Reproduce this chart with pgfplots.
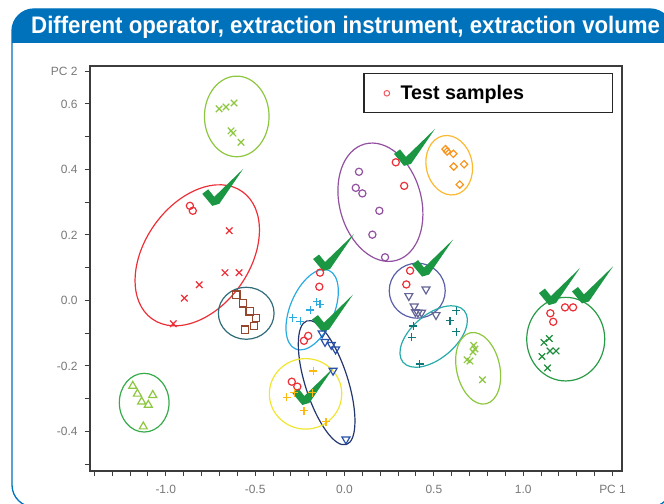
\documentclass[border=0pt]{standalone}
\usepackage{fontspec}
\setmainfont{Liberation Sans}
\newfontfamily\titlefont[FakeStretch=0.93]{Liberation Sans}
\usepackage{pgfplots}
\pgfplotsset{compat=1.18}
\usetikzlibrary{shapes.geometric}

\definecolor{frameblue}{RGB}{0,114,188}
\definecolor{axisgray}{RGB}{60,60,60}
\definecolor{labelgray}{RGB}{120,120,120}
\definecolor{sred}{RGB}{236,48,56}
\definecolor{lime}{RGB}{141,198,63}
\definecolor{slateteal}{RGB}{48,108,122}
\definecolor{brownsq}{RGB}{150,70,45}
\definecolor{grnell}{RGB}{55,170,75}
\definecolor{ltblue}{RGB}{41,171,226}
\definecolor{navy}{RGB}{35,55,110}
\definecolor{bluetri}{RGB}{40,80,170}
\definecolor{yellell}{RGB}{240,230,50}
\definecolor{yellplus}{RGB}{253,185,19}
\definecolor{purp}{RGB}{146,80,160}
\definecolor{orng}{RGB}{247,148,29}
\definecolor{orngell}{RGB}{251,185,50}
\definecolor{slate}{RGB}{90,95,170}
\definecolor{slatetri}{RGB}{100,100,150}
\definecolor{tealell}{RGB}{40,170,170}
\definecolor{tealplus}{RGB}{15,120,120}
\definecolor{dkgreen}{RGB}{40,155,70}
\definecolor{xgreen}{RGB}{30,140,60}
\definecolor{chk}{RGB}{27,150,67}

\begin{document}
\begin{tikzpicture}
\useasboundingbox (0,0) rectangle (664bp,504bp);
\begin{scope}
\clip[rounded corners=22bp] (12bp,-3bp) rectangle (672bp,495bp);
\fill[frameblue] (0,461bp) rectangle (680bp,500bp);
\end{scope}
\draw[frameblue, line width=1.3bp, rounded corners=22bp] (12bp,-3bp) rectangle (672bp,495bp);
\node[anchor=base west, text=white, inner sep=0, font=\titlefont\bfseries\fontsize{24}{26}\selectfont] at (31bp,470bp) {Different operator, extraction instrument, extraction volume};

\begin{axis}[
  at={(90bp,33bp)}, anchor=south west,
  width=532bp, height=405bp, scale only axis,
  xmin=-1.4242, xmax=1.5529, ymin=-0.5206, ymax=0.7160,
  axis line style={draw=axisgray, line width=1.6bp},
  tick pos=left, tick align=outside,
  major tick length=5bp,
  tick style={draw=axisgray, line width=1bp},
  xtick={-1.4,-1.3,-1.2,-1.1,-1.0,-0.9,-0.8,-0.7,-0.6,-0.5,-0.4,-0.3,-0.2,-0.1,0,0.1,0.2,0.3,0.4,0.5,0.6,0.7,0.8,0.9,1.0,1.1,1.2,1.3,1.4,1.5},
  xticklabels={,,,,-1.0,,,,,-0.5,,,,,0.0,,,,,0.5,,,,,1.0,,,,,PC 1},
  ytick={-0.5,-0.4,-0.3,-0.2,-0.1,0,0.1,0.2,0.3,0.4,0.5,0.6,0.7},
  yticklabels={,-0.4,,-0.2,,0.0,,0.2,,0.4,,0.6,PC 2},
  ticklabel style={font=\fontsize{12}{14}\selectfont, text=labelgray},
  xticklabel style={yshift=-6bp},
  yticklabel style={xshift=-4bp},
  legend style={at={(0.514,0.982)}, anchor=north west, draw=black!85, line width=1.2bp,
    font=\bfseries\fontsize{19.8}{22}\selectfont, inner xsep=20bp, inner ysep=9.5bp,
    column sep=9bp},
  legend cell align=left,
]
\addlegendimage{only marks, mark=o, mark size=2.8bp, draw=sred!80, line width=1bp}
\addlegendentry{\makebox[190bp][l]{Test samples}}

% ellipses
\node[draw=lime, line width=1.2bp, ellipse, inner sep=0, minimum width=64.6bp, minimum height=80.6bp] at (axis cs:-0.603,0.562) {};
\node[draw=sred, line width=1.2bp, ellipse, inner sep=0, minimum width=156bp, minimum height=105bp, rotate=54.7] at (axis cs:-0.824,0.138) {};
\node[draw=slateteal, line width=1.2bp, ellipse, inner sep=0, minimum width=55.7bp, minimum height=52bp] at (axis cs:-0.550,-0.039) {};
\node[draw=grnell, line width=1.2bp, ellipse, inner sep=0, minimum width=49.7bp, minimum height=58.7bp] at (axis cs:-1.121,-0.312) {};
\node[draw=ltblue, line width=1.2bp, ellipse, inner sep=0, minimum width=85.4bp, minimum height=44bp, rotate=67.2] at (axis cs:-0.181,-0.028) {};
\node[draw=navy, line width=1.2bp, ellipse, inner sep=0, minimum width=129.8bp, minimum height=42.7bp, rotate=-72.3] at (axis cs:-0.100,-0.251) {};
\node[draw=yellell, line width=1.2bp, ellipse, inner sep=0, minimum width=72.4bp, minimum height=70.5bp] at (axis cs:-0.218,-0.285) {};
\node[draw=purp, line width=1.2bp, ellipse, inner sep=0, minimum width=120.6bp, minimum height=81.8bp, rotate=-74.9] at (axis cs:0.201,0.300) {};
\node[draw=orngell, line width=1.2bp, ellipse, inner sep=0, minimum width=60bp, minimum height=46bp, rotate=-78] at (axis cs:0.586,0.413) {};
\node[draw=slate, line width=1.2bp, ellipse, inner sep=0, minimum width=56bp, minimum height=55bp] at (axis cs:0.407,0.030) {};
\node[draw=tealell, line width=1.2bp, ellipse, inner sep=0, minimum width=80bp, minimum height=44bp, rotate=40] at (axis cs:0.499,-0.110) {};
\node[draw=lime, line width=1.2bp, ellipse, inner sep=0, minimum width=72.7bp, minimum height=43.2bp, rotate=-77.6] at (axis cs:0.748,-0.207) {};
\node[draw=dkgreen, line width=1.2bp, ellipse, inner sep=0, minimum width=78bp, minimum height=83.6bp] at (axis cs:1.238,-0.118) {};

% test samples
\addplot[only marks, mark=o, mark size=3.6bp, draw=sred, line width=1.2bp] coordinates {
(-0.865,0.289) (-0.849,0.274)
(-0.137,0.085) (-0.141,0.042) (-0.203,-0.108) (-0.227,-0.123)
(-0.295,-0.248) (-0.264,-0.263)
(0.287,0.422) (0.334,0.350)
(0.367,0.091) (0.346,0.049)
(1.152,-0.039) (1.168,-0.065) (1.234,-0.021) (1.279,-0.021)
};
% reference groups
\addplot[only marks, mark=x, mark size=4.6bp, draw=sred, line width=1.2bp] coordinates {
(-0.645,0.213) (-0.669,0.085) (-0.590,0.085) (-0.813,0.048) (-0.896,0.007) (-0.958,-0.071)
};
\addplot[only marks, mark=x, mark size=4.6bp, draw=lime, line width=1.2bp] coordinates {
(-0.702,0.585) (-0.663,0.591) (-0.618,0.603) (-0.635,0.518) (-0.624,0.511) (-0.579,0.483)
};
\addplot[only marks, mark=square, mark size=3.6bp, draw=brownsq, line width=1.3bp] coordinates {
(-0.605,0.018) (-0.568,-0.009) (-0.531,-0.033) (-0.494,-0.054) (-0.506,-0.078) (-0.556,-0.089)
};
\addplot[only marks, mark=triangle, mark size=4.6bp, draw=lime, line width=1.2bp] coordinates {
(-1.185,-0.261) (-1.159,-0.285) (-1.135,-0.309) (-1.098,-0.319) (-1.073,-0.289) (-1.126,-0.385)
};
\addplot[only marks, mark=+, mark size=4bp, draw=ltblue, line width=1.2bp] coordinates {
(-0.156,-0.004) (-0.137,-0.012) (-0.191,-0.029) (-0.291,-0.052) (-0.247,-0.063)
};
\addplot[only marks, mark=triangle, mark size=4.6bp, mark options={rotate=180}, draw=bluetri, line width=1.2bp] coordinates {
(-0.125,-0.100) (-0.109,-0.126) (-0.074,-0.135) (-0.050,-0.149) (-0.064,-0.214) (0.008,-0.424)
};
\addplot[only marks, mark=+, mark size=4bp, draw=yellplus, line width=1.2bp] coordinates {
(-0.175,-0.215) (-0.323,-0.296) (-0.281,-0.282) (-0.180,-0.282) (-0.227,-0.336) (-0.104,-0.370)
};
\addplot[only marks, mark=o, mark size=3.6bp, draw=purp, line width=1.2bp] coordinates {
(0.081,0.393) (0.063,0.344) (0.100,0.327) (0.195,0.274) (0.156,0.201) (0.227,0.132)
};
\addplot[only marks, mark=square, mark size=2.6bp, mark options={rotate=45}, draw=orng, line width=1.2bp] coordinates {
(0.565,0.462) (0.574,0.455) (0.609,0.448) (0.611,0.409) (0.669,0.416) (0.645,0.354)
};
\addplot[only marks, mark=triangle, mark size=4.6bp, mark options={rotate=180}, draw=slatetri, line width=1.2bp] coordinates {
(0.456,0.034) (0.360,0.014) (0.390,-0.018) (0.397,-0.035) (0.411,-0.037) (0.431,-0.037) (0.512,-0.044)
};
\addplot[only marks, mark=+, mark size=4bp, draw=tealplus, line width=1.2bp] coordinates {
(0.626,-0.031) (0.590,-0.062) (0.626,-0.095) (0.385,-0.078) (0.376,-0.112) (0.421,-0.194)
};
\addplot[only marks, mark=x, mark size=4.6bp, draw=lime, line width=1.2bp] coordinates {
(0.723,-0.137) (0.730,-0.148) (0.719,-0.157) (0.686,-0.181) (0.702,-0.185) (0.772,-0.242)
};
\addplot[only marks, mark=x, mark size=4.6bp, draw=xgreen, line width=1.2bp] coordinates {
(1.146,-0.116) (1.116,-0.128) (1.150,-0.154) (1.184,-0.154) (1.105,-0.171) (1.136,-0.206)
};

% check marks
\fill[chk] (axis cs:-0.740,0.289) -- ++(-10bp,12bp) -- ++(6bp,4.5bp) -- ++(6bp,-7.5bp) -- ++(29bp,28bp) -- ++(-24bp,-35bp) -- cycle;
\fill[chk] (axis cs:-0.120,0.090) -- ++(-10bp,12bp) -- ++(6bp,4.5bp) -- ++(6bp,-7.5bp) -- ++(29bp,28bp) -- ++(-24bp,-35bp) -- cycle;
\fill[chk] (axis cs:0.333,0.411) -- ++(-10bp,12bp) -- ++(6bp,4.5bp) -- ++(6bp,-7.5bp) -- ++(29bp,28bp) -- ++(-24bp,-35bp) -- cycle;
\fill[chk] (axis cs:0.434,0.073) -- ++(-10bp,12bp) -- ++(6bp,4.5bp) -- ++(6bp,-7.5bp) -- ++(29bp,28bp) -- ++(-24bp,-35bp) -- cycle;
\fill[chk] (axis cs:-0.126,-0.095) -- ++(-10bp,12bp) -- ++(6bp,4.5bp) -- ++(6bp,-7.5bp) -- ++(29bp,28bp) -- ++(-24bp,-35bp) -- cycle;
\fill[chk] (axis cs:-0.236,-0.319) -- ++(-10bp,12bp) -- ++(6bp,4.5bp) -- ++(6bp,-7.5bp) -- ++(29bp,28bp) -- ++(-24bp,-35bp) -- cycle;
\fill[chk] (axis cs:1.144,-0.014) -- ++(-10bp,12bp) -- ++(6bp,4.5bp) -- ++(6bp,-7.5bp) -- ++(29bp,28bp) -- ++(-24bp,-35bp) -- cycle;
\fill[chk] (axis cs:1.329,-0.009) -- ++(-10bp,12bp) -- ++(6bp,4.5bp) -- ++(6bp,-7.5bp) -- ++(29bp,28bp) -- ++(-24bp,-35bp) -- cycle;
\end{axis}
\end{tikzpicture}
\end{document}
